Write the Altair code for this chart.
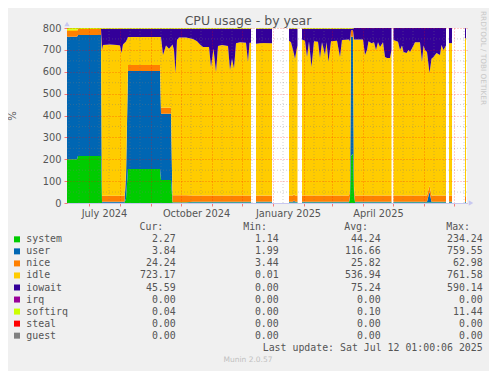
import altair as alt
import pandas as pd

# ---------------- data ----------------
dates = [
    "2024-06-09", "2024-06-19", "2024-06-20", "2024-07-13", "2024-07-14", "2024-07-15",
    "2024-07-22", "2024-07-29", "2024-08-01", "2024-08-02T12:00", "2024-08-04", "2024-08-05T12:00",
    "2024-08-07", "2024-08-09", "2024-09-10", "2024-09-11", "2024-09-13", "2024-09-16",
    "2024-09-19", "2024-09-21", "2024-09-22T12:00", "2024-09-24", "2024-09-25T12:00", "2024-09-27",
    "2024-09-29", "2024-10-06", "2024-10-13", "2024-10-17", "2024-10-20", "2024-10-23",
    "2024-10-29", "2024-10-31", "2024-11-02T12:00", "2024-11-05", "2024-11-07", "2024-11-11",
    "2024-11-17", "2024-11-19", "2024-11-21", "2024-11-23", "2024-11-25", "2024-11-29",
    "2024-12-05", "2024-12-07", "2024-12-08T12:00", "2024-12-10",
    "2024-12-15", "2024-12-21", "2024-12-31",
    "2025-01-17", "2025-01-19", "2025-01-21", "2025-01-22", "2025-01-23", "2025-01-24T12:00",
    "2025-01-25T12:00",
    "2025-01-30", "2025-02-02", "2025-02-04", "2025-02-06", "2025-02-08T12:00", "2025-02-11",
    "2025-02-15", "2025-02-17", "2025-02-19", "2025-02-22", "2025-02-23T12:00", "2025-02-25T12:00",
    "2025-02-28", "2025-03-06", "2025-03-09", "2025-03-11", "2025-03-18", "2025-03-19",
    "2025-03-20", "2025-03-22", "2025-03-23", "2025-03-24", "2025-04-01", "2025-04-03",
    "2025-04-05", "2025-04-06T12:00", "2025-04-09T12:00", "2025-04-12", "2025-04-14", "2025-04-16",
    "2025-04-18", "2025-04-21", "2025-04-23", "2025-04-25", "2025-04-28", "2025-04-29T12:00",
    "2025-05-01T12:00", "2025-05-06", "2025-05-08", "2025-05-10", "2025-05-11T12:00", "2025-05-14T12:00",
    "2025-05-16T12:00", "2025-05-18", "2025-05-21", "2025-05-23", "2025-05-28", "2025-05-30",
    "2025-05-31T12:00", "2025-06-02", "2025-06-04", "2025-06-06T12:00", "2025-06-08T12:00", "2025-06-10T12:00",
    "2025-06-13T12:00", "2025-06-17", "2025-06-18T12:00", "2025-06-20T12:00", "2025-06-23",
    "2025-06-26", "2025-06-29",
    "2025-07-12", "2025-07-13",
]
segment = [1] * 46 + [2] * 3 + [3] * 7 + [4] * 36 + [5] * 23 + [6] * 2 + [7] * 2

system = [
    200, 200, 215, 215, 1, 1, 1, 1, 1, 1, 1, 1, 20, 155, 155, 105, 105, 105, 105, 105,
    2, 2, 2, 2, 2, 2, 2, 2, 2, 2, 2, 2, 2, 2, 2, 2, 2, 2, 2, 2, 2, 2, 2, 2, 2, 2,
    2, 2, 2,
    2, 2, 2, 2, 2, 2, 2,
    2, 2, 2, 2, 2, 2, 2, 2, 2, 2, 2, 2, 2, 2, 2, 2, 2, 20, 215, 225, 40, 2, 2, 2,
    2, 2, 2, 2, 2, 2, 2, 2, 2, 2, 2, 2,
    2, 2, 2, 2, 2, 2, 2, 2, 2, 2, 2, 2, 2, 2, 2, 2, 2, 2, 2, 2, 2, 2, 2,
    2, 2,
    2.27, 2.27,
]
user = [
    560, 560, 553, 553, 5, 5, 5, 5, 5, 5, 5, 5, 100, 448, 448, 303, 303, 303, 303, 303,
    1, 1, 1, 1, 1, 1, 4, 4, 4, 4, 4, 4, 4, 4, 4, 4, 4, 4, 4, 4, 4, 4, 4, 4, 4, 4,
    4, 4, 4,
    4, 4, 4, 10, 4, 4, 4,
    4, 4, 4, 4, 4, 4, 4, 4, 4, 4, 4, 4, 4, 4, 4, 4, 4, 10, 545, 535, 10, 4, 4, 4,
    4, 4, 4, 4, 4, 4, 4, 4, 4, 4, 4, 4,
    4, 4, 4, 4, 4, 4, 4, 4, 4, 4, 4, 4, 4, 4, 4, 50, 4, 4, 4, 4, 4, 4, 4,
    4, 4,
    3.84, 3.84,
]
nice = [
    26, 26, 27, 27, 27, 27, 27, 27, 27, 27, 27, 27, 28, 28, 28, 28, 28, 28, 28, 28,
    32, 32, 32, 32, 32, 32, 28, 28, 28, 28, 28, 28, 28, 28, 28, 28, 28, 28, 28, 28, 28, 28, 28, 28, 28, 28,
    28, 28, 28,
    28, 28, 28, 28, 28, 28, 28,
    28, 28, 28, 28, 28, 28, 28, 28, 28, 28, 28, 28, 28, 28, 28, 28, 28, 28, 30, 30, 28, 28, 28, 28,
    28, 28, 28, 28, 28, 28, 28, 28, 28, 28, 28, 28,
    28, 28, 28, 28, 28, 28, 28, 28, 28, 28, 28, 28, 28, 28, 28, 28, 28, 28, 28, 28, 28, 28, 28,
    28, 28,
    24.24, 24.24,
]
idle = [
    6, 6, 0, 0, 666, 689, 692, 689, 687, 653, 692, 698, 590, 128, 128, 323, 241, 284, 269, 279,
    690, 665, 559, 710, 722, 722, 716, 706, 691, 679, 679, 588, 671, 565, 684, 688, 684, 574, 626, 581,
    696, 701, 699, 612, 699, 699,
    694, 697, 696,
    708, 701, 666, 640, 626, 666, 686,
    714, 708, 633, 704, 588, 706, 703, 629, 701, 643, 701, 612, 706, 708, 633, 711, 714, 680, 0, 0,
    670, 714, 714, 643, 666, 706, 696, 701, 665, 701, 679, 701, 633, 629, 629, 666,
    711, 703, 665, 686, 656, 652, 666, 656, 681, 701, 701, 612, 686, 665, 656, 514, 626, 633, 652, 643,
    688, 666, 686,
    697, 697,
    723.17, 723.17,
]
iowait = [
    0, 0, 0, 0, 98, 75, 72, 75, 77, 111, 72, 66, 59, 38, 38, 38, 120, 77, 92, 82,
    72, 97, 203, 52, 40, 40, 47, 57, 72, 84, 84, 175, 92, 198, 79, 75, 79, 189, 137, 182,
    67, 62, 64, 151, 64, 64,
    69, 66, 67,
    55, 62, 97, 117, 137, 97, 77,
    49, 55, 130, 59, 175, 57, 60, 134, 62, 120, 62, 151, 57, 55, 130, 52, 49, 59, 7, 7,
    52, 52, 52, 123, 100, 60, 70, 65, 101, 65, 87, 65, 133, 137, 137, 100,
    55, 63, 101, 80, 110, 114, 100, 110, 85, 65, 65, 154, 80, 101, 110, 206, 140, 133, 114, 123,
    78, 100, 80,
    69, 69,
    45.59, 45.59,
]
softirq = [8, 8, 5, 5] + [3] * 72 + [0] * 39 + [0, 0, 0.04, 0.04]

series = ["system", "user", "nice", "idle", "iowait", "irq", "softirq", "steal", "guest"]
colors = ["#00CC00", "#0066B3", "#FF8000", "#FFCC00", "#330099", "#990099", "#CCFF00", "#FF0000", "#808080"]
cur_vals = [2.27, 3.84, 24.24, 723.17, 45.59, 0.00, 0.04, 0.00, 0.00]
min_vals = [1.14, 1.99, 3.44, 0.01, 0.00, 0.00, 0.00, 0.00, 0.00]
avg_vals = [44.24, 116.66, 25.82, 536.94, 75.24, 0.00, 0.10, 0.00, 0.00]
max_vals = [234.24, 759.55, 62.98, 761.58, 590.14, 0.00, 11.44, 0.00, 0.00]

y_ticks = list(range(0, 801, 100))
y_minor = list(range(50, 800, 100))
shown_months = ["2024-07", "2024-10", "2025-01", "2025-04"]
title_text = "CPU usage - by year"
last_update = "Last update: Sat Jul 12 01:00:06 2025"

# ---------------- tables ----------------
wide = pd.DataFrame({
    "date": pd.to_datetime(dates, format="ISO8601"), "seg": segment,
    "system": system, "user": user, "nice": nice, "idle": idle,
    "iowait": iowait, "softirq": softirq,
})
long = wide.melt(id_vars=["date", "seg"], var_name="series", value_name="value")
long["order"] = long["series"].map({s: i for i, s in enumerate(series)})

x_minor = pd.DataFrame({"date": [d for d in pd.date_range("2024-06-09", "2025-07-14") if d.day in (11, 21)]})
y_minor_df = pd.DataFrame({"v": y_minor})

legend_df = pd.DataFrame({"series": series, "cur": cur_vals, "min": min_vals, "avg": avg_vals, "max": max_vals})
rows = ["hdr"] + series + ["last"]
hdr_df = pd.DataFrame({"row": ["hdr"]})
last_df = pd.DataFrame({"row": ["last"], "label": [last_update]})
one = pd.DataFrame({"a": [0]})

FONT = "DejaVu Sans"
MONO = "DejaVu Sans Mono"
TXT = "#555555"
AXIS_C = "#C8C8F0"

x_scale = alt.Scale(domain=[alt.DateTime(year=2024, month=6, date=9),
                            alt.DateTime(year=2025, month=7, date=14)], nice=False)
y_scale = alt.Scale(domain=[0, 800], nice=False, zero=True)
color_scale = alt.Scale(domain=series, range=colors)
row_scale = alt.Scale(type="point", domain=rows, range=[199.3, 319.7], padding=0)

label_expr = ("indexof(" + str(shown_months) + ", timeFormat(datum.value, '%Y-%m')) >= 0 ? "
              "timeFormat(datum.value, '%B %Y') : ''")

x_axis = alt.Axis(
    tickCount={"interval": "month", "step": 1}, labelExpr=label_expr,
    grid=True, gridColor="#FF0000", gridOpacity=0.4, gridDash=[1, 2],
    tickColor="#FF0000", tickOpacity=0.5, tickSize=3,
    domain=True, domainColor=AXIS_C,
    labelColor=TXT, labelFont=FONT, labelFontSize=9.8, labelPadding=2, labelOffset=15,
    labelOverlap=False, labelFlush=False, labelBound=False, title=None, zindex=1,
)
y_axis = alt.Axis(
    values=y_ticks, grid=True, gridColor="#FF0000", gridOpacity=0.4, gridDash=[1, 2],
    tickColor="#FF0000", tickOpacity=0.5, tickSize=3, domain=False,
    labelColor=TXT, labelFont=FONT, labelFontSize=9.8, labelPadding=3,
    title="%", titleX=-55, titleY=87.5, titleAngle=270, titleFont=FONT, titleFontSize=10,
    titleFontWeight="normal", titleColor=TXT, titleAlign="center", titleBaseline="middle", zindex=1,
)

areas = alt.Chart(long).transform_stack(
    stack="value", groupby=["date"], as_=["y0", "y1"], sort=[alt.SortField("order", order="ascending")]
).mark_area(interpolate="linear").encode(
    x=alt.X("date:T", scale=x_scale, axis=x_axis),
    y=alt.Y("y0:Q", scale=y_scale, axis=y_axis),
    y2="y1:Q",
    color=alt.Color("series:N", scale=color_scale, legend=None),
    detail="seg:N",
)

minor_h = alt.Chart(y_minor_df).mark_rule(color="#777777", opacity=0.35, strokeDash=[1, 2]).encode(
    y=alt.Y("v:Q", scale=y_scale, axis=None)
)
minor_v = alt.Chart(x_minor).mark_rule(color="#777777", opacity=0.35, strokeDash=[1, 2]).encode(
    x=alt.X("date:T", scale=x_scale, axis=x_axis)
)
arrow_up = alt.Chart(one).mark_point(shape="triangle-up", filled=True, size=28, color=AXIS_C, opacity=1).encode(
    x=alt.value(0), y=alt.value(-4))
arrow_right = alt.Chart(one).mark_point(shape="triangle-right", filled=True, size=28, color=AXIS_C, opacity=1).encode(
    x=alt.value(404), y=alt.value(175))

ry = alt.Y("series:N", scale=row_scale, axis=None)
txt = dict(font=MONO, fontSize=9.9, color=TXT, baseline="middle")
swatch = alt.Chart(legend_df).mark_square(size=36, opacity=1).encode(
    x=alt.value(-50), y=ry, color=alt.Color("series:N", scale=color_scale, legend=None))
names = alt.Chart(legend_df).mark_text(align="left", **txt).encode(x=alt.value(-40.7), y=ry, text="series:N")
cols = []
for field, xr in [("cur", 108.7), ("min", 211.7), ("avg", 313.7), ("max", 415.7)]:
    cols.append(alt.Chart(legend_df).mark_text(align="right", **txt).encode(
        x=alt.value(xr), y=ry, text=alt.Text(f"{field}:Q", format=".2f")))
hy = alt.Y("row:N", scale=row_scale, axis=None)
headers = []
for label, xr in [("Cur:", 96.3), ("Min:", 200), ("Avg:", 301), ("Max:", 403)]:
    headers.append(alt.Chart(hdr_df).mark_text(align="right", text=label, **txt).encode(x=alt.value(xr), y=hy))
last = alt.Chart(last_df).mark_text(align="right", **txt).encode(x=alt.value(415.7), y=hy, text="label:N")
munin = alt.Chart(one).mark_text(text="Munin 2.0.57", font=FONT, fontSize=7.5, color="#C0C0C0",
                                 align="center", baseline="middle").encode(x=alt.value(181), y=alt.value(332))
rrd = alt.Chart(one).mark_text(text="RRDTOOL / TOBI OETIKER", font=FONT, fontSize=7.3, color="#C8C8C8",
                               align="center", baseline="middle", angle=90).encode(x=alt.value(415.5), y=alt.value(30))
title = alt.Chart(one).mark_text(text=title_text, font=FONT, fontSize=12.5, color=TXT,
                                 align="center", baseline="alphabetic").encode(x=alt.value(181), y=alt.value(-3.5))

chart = alt.layer(
    areas, minor_h, minor_v, arrow_up, arrow_right,
    swatch, names, *cols, *headers, last, munin, rrd, title,
).resolve_scale(y="independent").properties(
    width=400, height=175,
    autosize=alt.AutoSizeParams(type="none"),
    padding={"left": 59, "top": 20, "right": 22, "bottom": 168},
).configure(background="#F0F0F0").configure_view(fill="white", stroke=None)

chart.save("out.html", embed_options={"renderer": "svg", "actions": False})
